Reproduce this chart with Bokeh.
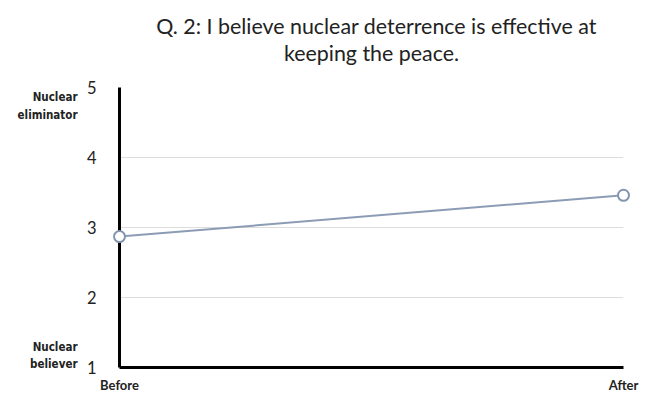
from bokeh.plotting import figure
from bokeh.models import Range1d, FixedTicker
from bokeh.core.properties import value
from bokeh.embed import file_html
from bokeh.resources import INLINE

categories = ["Before", "After"]
values = [2.87, 3.46]
y_ticks = [1, 2, 3, 4, 5]
title_lines = ["Q. 2: I believe nuclear deterrence is effective at", "keeping the peace."]
end_labels = ["Nuclear\neliminator", "Nuclear\nbeliever"]
end_label_y = [5, 1]

xs = list(range(len(categories)))
x_mid = (xs[0] + xs[-1]) / 2
y_top = y_ticks[-1]

p = figure(width=644, height=396, output_backend="svg", toolbar_location=None,
           x_range=Range1d(xs[0], xs[-1]), y_range=Range1d(y_ticks[0], y_ticks[-1]),
           min_border_left=119, min_border_right=21, min_border_top=87, min_border_bottom=29)
p.outline_line_color = None
p.title = None

p.xgrid.visible = False
p.ygrid.grid_line_color = "#dddddd"
p.ygrid.grid_line_width = 1

p.xaxis.ticker = FixedTicker(ticks=xs)
p.xaxis.major_label_overrides = {i: c for i, c in zip(xs, categories)}
p.xaxis.major_label_text_font = "Lato"
p.xaxis.major_label_text_font_style = "bold"
p.xaxis.major_label_text_font_size = "13px"
p.xaxis.major_label_text_color = "#222222"
p.xaxis.major_label_standoff = 3
p.xaxis.axis_line_color = "black"
p.xaxis.axis_line_width = 3
p.xaxis.major_tick_line_color = None
p.xaxis.minor_tick_line_color = None

p.yaxis.ticker = FixedTicker(ticks=y_ticks)
p.yaxis.major_label_orientation = "horizontal"
p.yaxis.major_label_text_font = "Lato"
p.yaxis.major_label_text_font_size = "16.5px"
p.yaxis.major_label_text_color = "#222222"
p.yaxis.major_label_standoff = 17
p.yaxis.axis_line_color = "black"
p.yaxis.axis_line_width = 3
p.yaxis.major_tick_line_color = None
p.yaxis.minor_tick_line_color = None

p.line(xs, values, line_color="#8c9cb5", line_width=2, level="overlay")
p.scatter(xs, values, size=11, fill_color="white", line_color="#8496ae", line_width=2, level="overlay")

p.text(x=[0, 0], y=end_label_y, text=end_labels, x_offset=-42, y_offset=[18.5, -12],
       text_align="right", text_baseline="middle",
       text_font=value("DejaVu Sans Condensed"), text_font_style="bold",
       text_font_size="11.5px", text_color="#222222", text_line_height=1.25, level="overlay")

p.text(x=[x_mid, x_mid], y=[y_top, y_top], text=title_lines, x_offset=[5, 0], y_offset=[-62, -35],
       text_align="center", text_baseline="alphabetic",
       text_font=value("Lato"), text_font_size="21.4px", text_color="#222222", level="overlay")

open("out.html", "w").write(file_html(p, INLINE))
